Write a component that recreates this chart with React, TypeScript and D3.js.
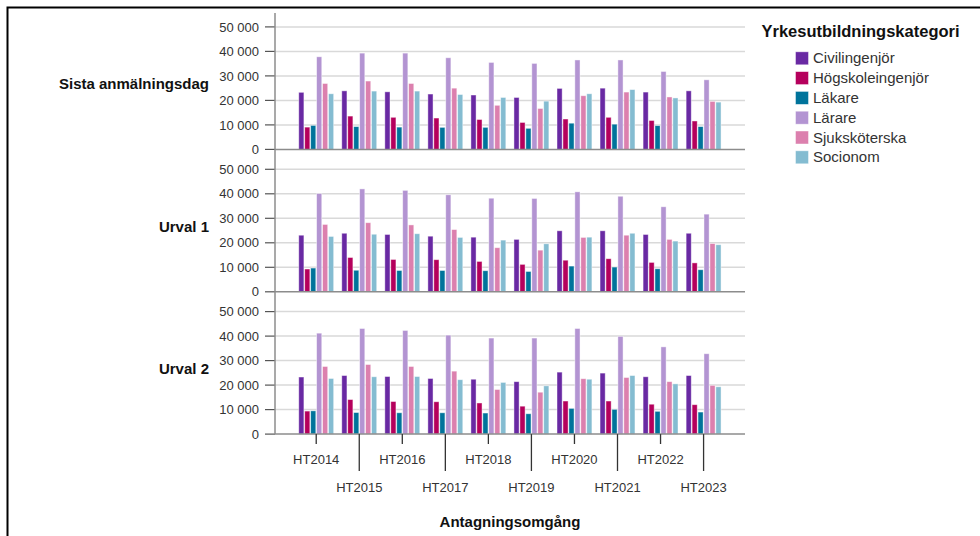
import React from "react";
import * as d3 from "d3";

const years = ["HT2014","HT2015","HT2016","HT2017","HT2018","HT2019","HT2020","HT2021","HT2022","HT2023"];
const categories = ["Civilingenjör","Högskoleingenjör","Läkare","Lärare","Sjuksköterska","Socionom"];
const panels = ["Sista anmälningsdag","Urval 1","Urval 2"];
const colors = ["#6929a3","#b5005c","#00739b","#b394d2","#dc80ae","#84bcd1"];
const yTicks = [0,10000,20000,30000,40000,50000];

// values[panel][category][year]
const sistaAnm = [
  [23300,23900,23500,22600,22200,21200,24900,25000,23400,23900],
  [9100,13600,13100,12800,12200,11000,12400,13100,11800,11600],
  [9800,9300,9100,9000,9000,8600,10700,10300,9700,9300],
  [37800,39300,39300,37400,35500,35100,36500,36500,31800,28400],
  [26900,27900,26900,25000,18000,16700,21900,23400,21400,19600],
  [22700,23800,23800,22400,21200,19700,22700,24400,21000,19300],
];
const urval1 = [
  [23100,23900,23400,22700,22300,21400,24900,24900,23400,23900],
  [9300,14000,13200,13100,12400,11200,12900,13500,12000,11800],
  [9700,8800,8700,8700,8600,8300,10500,10100,9400,9000],
  [40100,42000,41400,39600,38200,38100,40800,39000,34700,31700],
  [27500,28200,27300,25400,18000,17000,22200,23100,21400,19700],
  [22600,23500,23700,22200,21100,19600,22300,23900,20700,19200],
];
const urval2 = [
  [23300,23900,23500,22700,22400,21400,25300,24900,23400,23900],
  [9400,14100,13300,13200,12700,11400,13500,13500,12200,12000],
  [9500,8800,8700,8700,8600,8300,10500,10100,9300,9000],
  [41200,43100,42300,40400,39200,39200,43100,39900,35600,32800],
  [27600,28400,27600,25700,18200,17100,22600,23100,21400,19900],
  [22700,23400,23500,22200,21100,19700,22400,23900,20500,19300],
];
const panelData = [sistaAnm, urval1, urval2];

const W = 980, H = 536;
const axisX = 275;
const plotRight = 745;
const baselines = [149.4, 291.8, 434.1];
const font = "Liberation Sans, Arial, sans-serif";

export default function App() {
  const x = d3.scaleBand<string>().domain(years).range([294.7, 725.1]).paddingInner(0.17).paddingOuter(0.085);
  const xi = d3.scaleBand<string>().domain(categories).range([0, x.bandwidth()]);
  const legendY = d3.scalePoint<string>().domain(categories).range([58.3, 157.3]);

  return (
    <svg width={W} height={H} style={{ position: "absolute", left: 0, top: 0 }} fontFamily={font}>
      <rect x={0} y={0} width={W} height={H} fill="#fff" />
      <rect x={7.5} y={7.5} width={1200} height={1200} fill="none" stroke="#000" strokeWidth={2} />

      {panels.map((p, pi) => {
        const base = baselines[pi];
        const y = d3.scaleLinear().domain([0, 50000]).range([base, base - 122.5]);
        const data = panelData[pi];
        return (
          <g key={p}>
            {yTicks.filter(t => t > 0).map(t => (
              <line key={t} x1={axisX} x2={plotRight} y1={y(t)} y2={y(t)} stroke="#d9d9d9" strokeWidth={1.5} />
            ))}
            {categories.map((c, ci) => (
              <g key={c}>
                {years.map((yr, yi) => {
                  const v = data[ci][yi];
                  return (
                    <rect key={yr}
                      x={(x(yr) as number) + (xi(c) as number) + 0.4}
                      y={y(v)}
                      width={xi.bandwidth() - 0.8}
                      height={base - y(v)}
                      fill={colors[ci]}
                      stroke="rgba(255,255,255,0.55)"
                      strokeWidth={0.8} />
                  );
                })}
              </g>
            ))}
            <line x1={axisX} x2={plotRight} y1={base} y2={base} stroke="#8c8c8c" strokeWidth={1.5} />
            {yTicks.map(t => (
              <g key={t}>
                <line x1={265} x2={axisX} y1={y(t)} y2={y(t)} stroke="#555" strokeWidth={1.2} />
                <text x={259} y={y(t) + 4.6} textAnchor="end" fontSize={13} fill="#333">
                  {d3.format(",")(t).replace(/,/g, " ")}
                </text>
              </g>
            ))}
            <text x={209} y={base - 65 + 5} textAnchor="end" fontSize={15} fontWeight="bold" fill="#111">{p}</text>
          </g>
        );
      })}

      <line x1={axisX} x2={axisX} y1={13} y2={baselines[2]} stroke="#8c8c8c" strokeWidth={1.5} />

      {years.map((yr, i) => {
        const cx = (x(yr) as number) + x.bandwidth() / 2;
        const long = i % 2 === 1;
        return (
          <g key={yr}>
            <line x1={cx} x2={cx} y1={baselines[2]} y2={long ? 471 : 444} stroke="#333" strokeWidth={1.3} />
            <text x={cx} y={long ? 492 : 463.5} textAnchor="middle" fontSize={13} fill="#333">{yr}</text>
          </g>
        );
      })}

      <text x={510} y={527} textAnchor="middle" fontSize={15} fontWeight="bold" fill="#111">Antagningsomgång</text>

      <text x={761.5} y={36.5} fontSize={16.5} fontWeight="bold" fill="#111">Yrkesutbildningskategori</text>
      {categories.map((c, ci) => {
        const cy = legendY(c) as number;
        return (
          <g key={c}>
            <rect x={795.5} y={cy - 6.5} width={13} height={13} fill={colors[ci]} stroke="rgba(255,255,255,0.55)" strokeWidth={0.8} />
            <text x={813} y={cy + 5} fontSize={15} fill="#333">{c}</text>
          </g>
        );
      })}
    </svg>
  );
}
